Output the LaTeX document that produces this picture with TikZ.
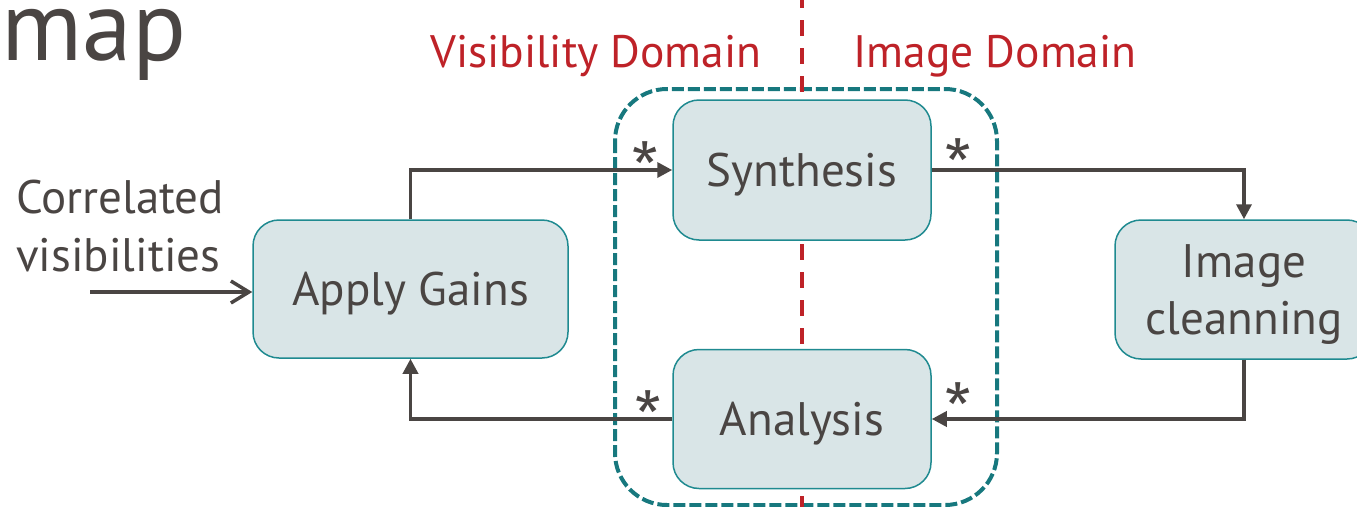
\documentclass[tikz,border=0pt]{standalone}
\usepackage{fontspec}
\setmainfont{PT Sans}
\newfontfamily\starfont{Fira Sans}
\usetikzlibrary{arrows.meta}
\definecolor{txt}{HTML}{4A4543}
\definecolor{dred}{HTML}{BE2228}
\definecolor{tealdash}{HTML}{17787E}
\definecolor{boxfill}{HTML}{D9E5E7}
\definecolor{boxline}{HTML}{1F8A90}
\begin{document}
\begin{tikzpicture}[x=1pt,y=-1pt,
  box/.style={draw=boxline, line width=1.5pt, fill=boxfill, rounded corners=26pt,
    text=txt, font=\fontsize{47}{57}\selectfont, inner sep=0pt, align=center, text depth=0pt},
  conn/.style={draw=txt, line width=3.5pt, -{Triangle[length=15pt,width=15pt]}},
  inarrow/.style={draw=txt, line width=3.5pt, -{Straight Barb[length=18pt,width=22pt,line width=3.5pt]}},
  lbl/.style={text=txt, font=\fontsize{47}{58}\selectfont, inner sep=0pt},
  star/.style={text=txt, font=\starfont\fontsize{58}{60}\selectfont, inner sep=0pt, anchor=north},
  dom/.style={text=dred, font=\fontsize{45.5}{50}\selectfont, inner sep=0pt, anchor=base},
  domline/.style={draw=dred, line width=4pt, dash pattern=on 16pt off 12pt},
  group/.style={draw=tealdash, line width=4pt, dash pattern=on 12pt off 4pt, rounded corners=52pt}
]
\useasboundingbox (0,0) rectangle (1357,506);
\clip (0,0) rectangle (1357,506);

% title fragment
\node[lbl, font=\fontsize{100}{110}\selectfont, anchor=base west] (title) at (1,60) {map};

% domain labels
\node[dom] (vis) at (596,67) {Visibility Domain};
\node[dom] (img) at (995,67) {Image Domain};

% group outline
\draw[group] (615,89) rectangle (997,505);

% domain separator
\coordinate (sepT) at (802,-8);
\coordinate (sepB) at (802,530);
\draw[domline] (sepT) -- (sepB);

% boxes
\node[box, minimum width=258pt, minimum height=140pt] (syn) at (802,170) {Synthesis};
\node[box, minimum width=258pt, minimum height=139pt] (ana) at (802,419) {Analysis};
\node[box, minimum width=315pt, minimum height=138pt] (ag) at (410.5,289) {Apply Gains};
\node[box, minimum width=258pt, minimum height=139pt] (ic) at (1244,289.5) {Image\\cleanning};

% input
\node[lbl, align=left, anchor=west] (corr) at (16,226) {Correlated\\visibilities};
\coordinate (in) at (90,292);
\draw[inarrow] (in) -- (in -| ag.west);

% connectors
\draw[conn] (ag.north) |- (syn.west);
\draw[conn] (syn.east) -| (ic.north);
\draw[conn] (ic.south) |- (ana.east);
\draw[conn] (ana.west) -| (ag.south);

% stars
\node[star] (s1) at (645,141) {*};
\node[star] (s2) at (958,138) {*};
\node[star] (s3) at (648,390) {*};
\node[star] (s4) at (958,382) {*};
\end{tikzpicture}
\end{document}
